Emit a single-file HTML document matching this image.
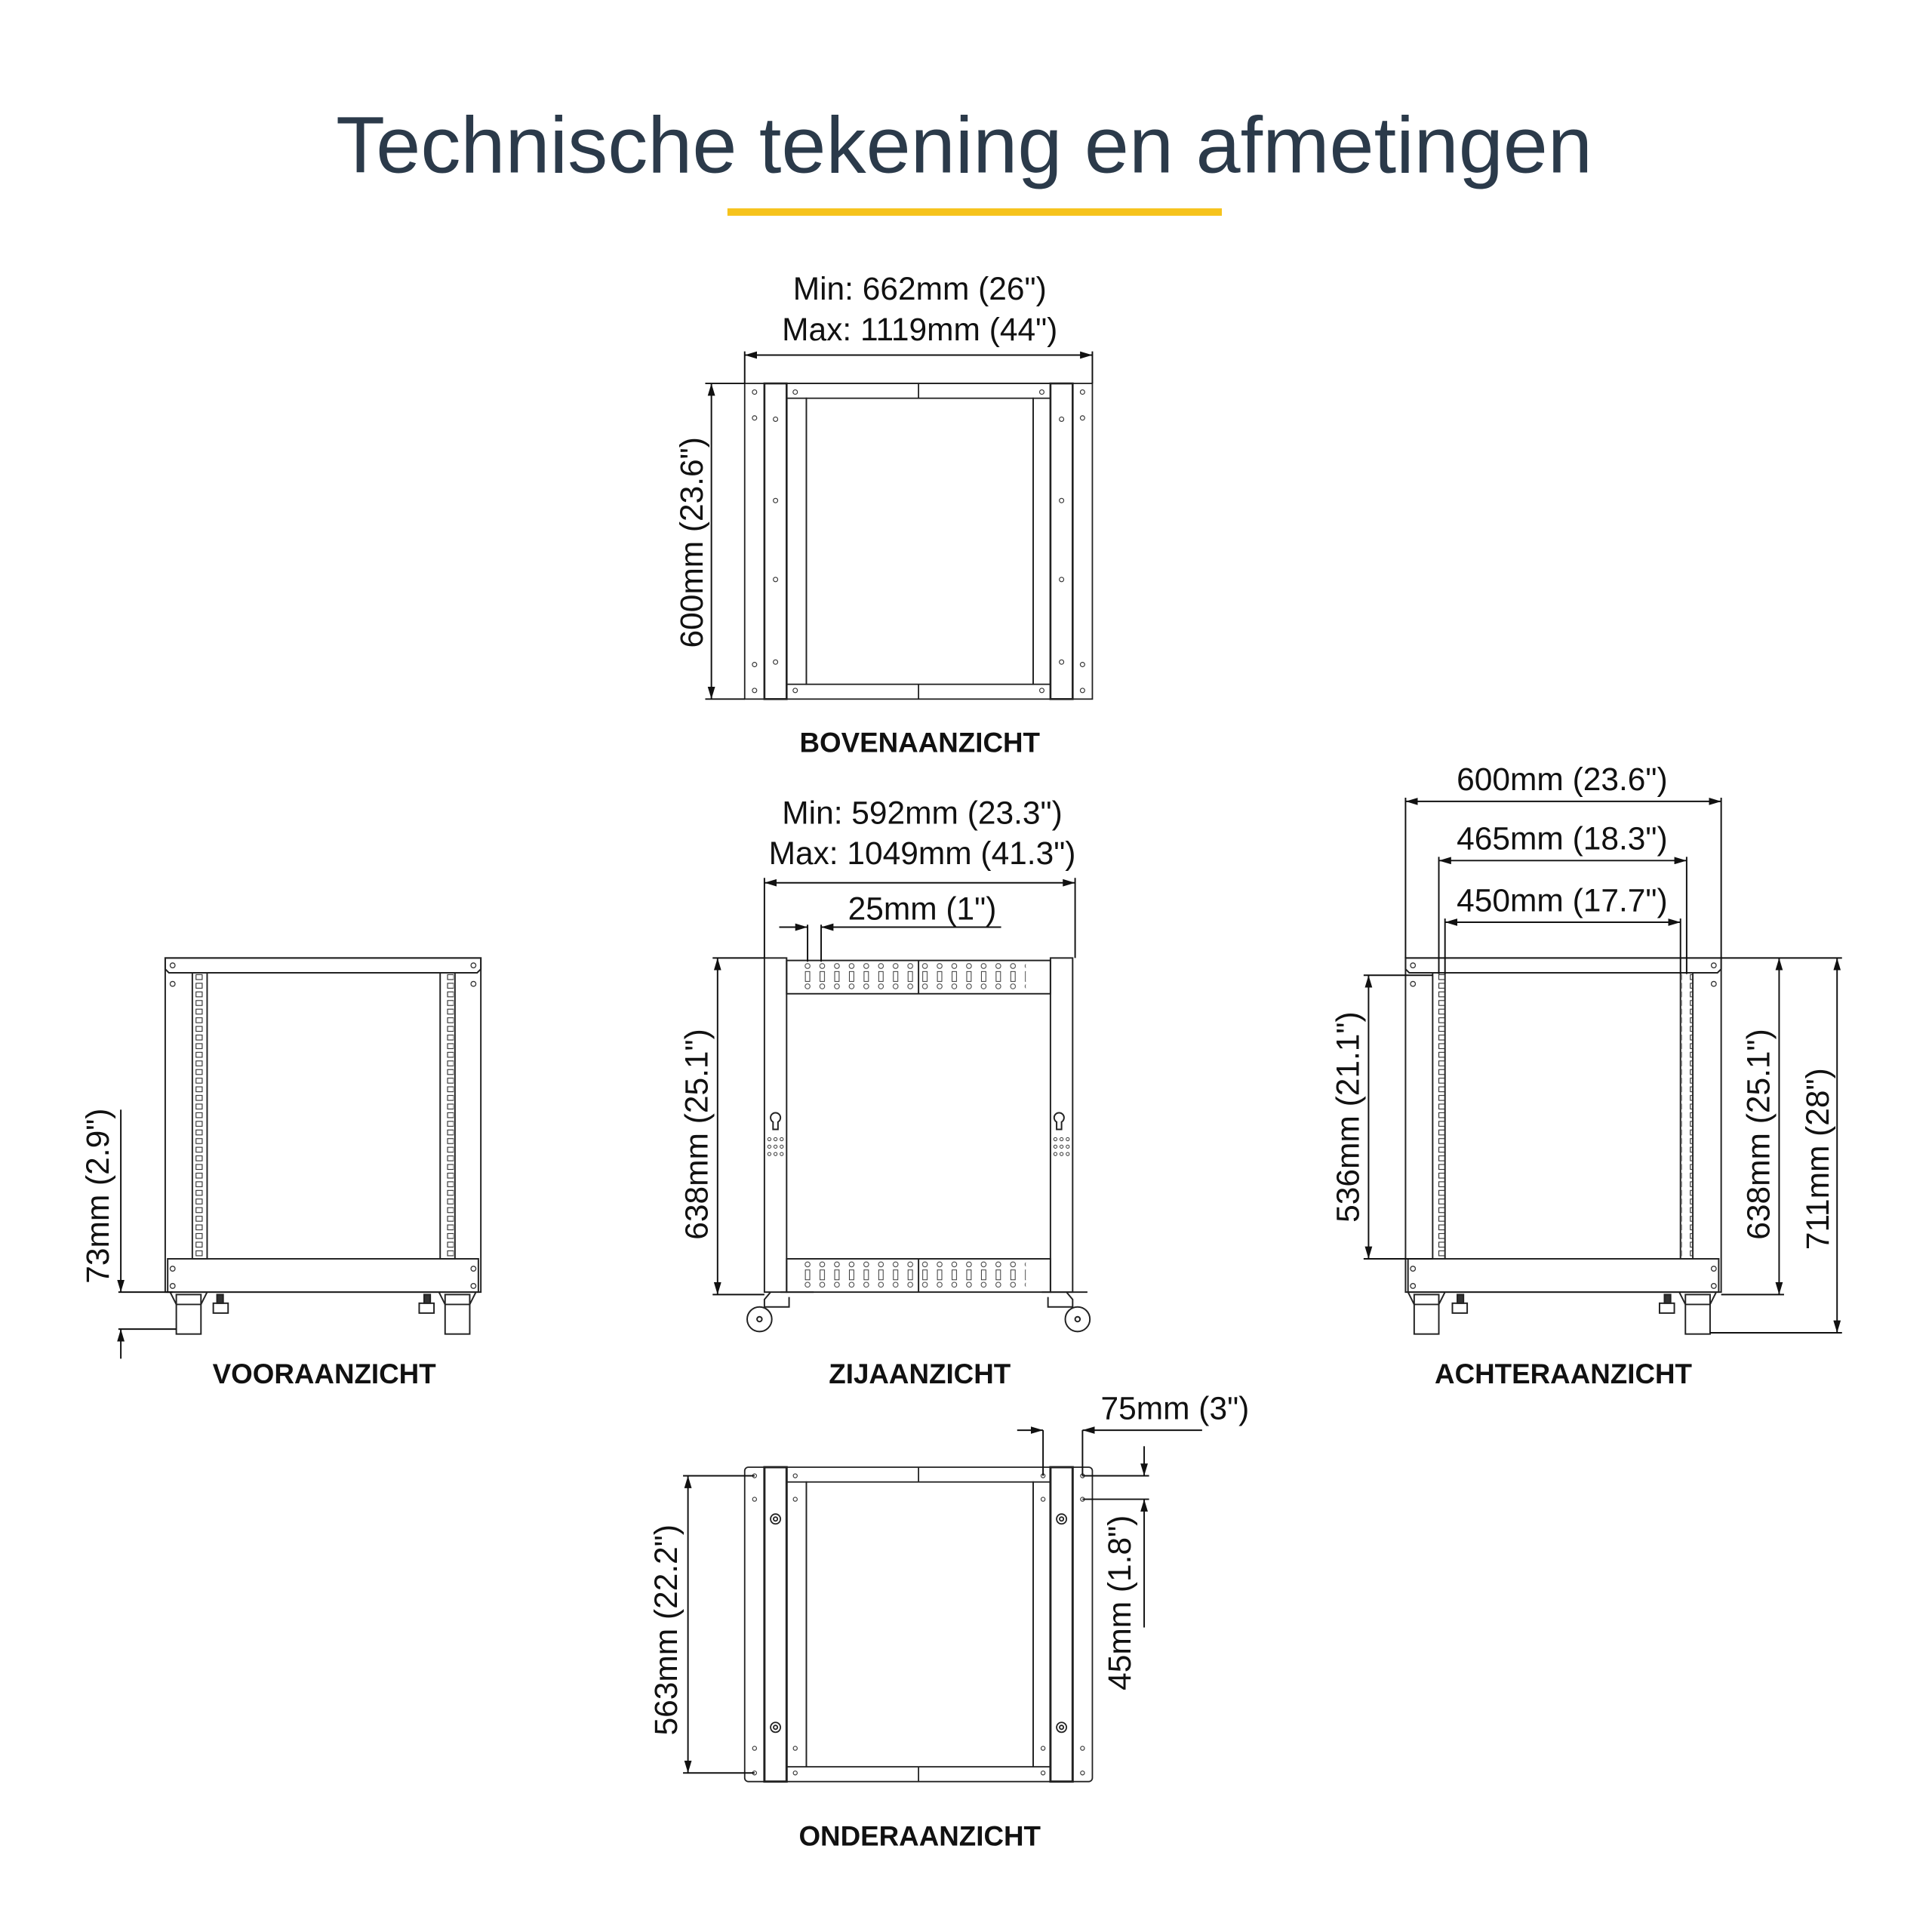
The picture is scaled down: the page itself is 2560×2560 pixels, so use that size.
<!DOCTYPE html>
<html><head><meta charset="utf-8"><style>
html,body{margin:0;padding:0;background:#fff;}
svg{display:block;}
text{font-family:"Liberation Sans",sans-serif;}
.d{font-size:26px;fill:#111;text-anchor:middle;}
.l{font-size:22.5px;font-weight:bold;fill:#111;text-anchor:middle;}
</style></head><body>
<svg width="2560" height="2560" viewBox="0 0 1567 1567" xmlns="http://www.w3.org/2000/svg">
<defs>
<marker id="a" viewBox="0 0 10 6" refX="10" refY="3" markerWidth="10" markerHeight="6" markerUnits="userSpaceOnUse" orient="auto-start-reverse"><path d="M0,0L10,3L0,6z" fill="#111"/></marker>
<pattern id="sq" x="0" y="789" width="12" height="7" patternUnits="userSpaceOnUse"><rect x="3" y="1.5" width="5" height="4" fill="none" stroke="#333" stroke-width="0.7"/></pattern>
<pattern id="ph" x="652" y="779" width="11.9" height="27" patternUnits="userSpaceOnUse"><circle cx="3" cy="4.5" r="2" fill="none" stroke="#333" stroke-width="0.6"/><rect x="1.2" y="9" width="3.6" height="8" fill="none" stroke="#333" stroke-width="0.6"/><circle cx="3" cy="21" r="2" fill="none" stroke="#333" stroke-width="0.6"/></pattern>
<pattern id="ph2" x="652" y="1021" width="11.9" height="27" patternUnits="userSpaceOnUse"><circle cx="3" cy="4.5" r="2" fill="none" stroke="#333" stroke-width="0.6"/><rect x="1.2" y="9" width="3.6" height="8" fill="none" stroke="#333" stroke-width="0.6"/><circle cx="3" cy="21" r="2" fill="none" stroke="#333" stroke-width="0.6"/></pattern>
</defs>
<text x="782" y="140" style="font-size:65px;fill:#2b3a4a;text-anchor:middle;">Technische tekening en afmetingen</text>
<rect x="590" y="169" width="401" height="6" fill="#f6c31c"/>

<g fill="none" stroke="#222" stroke-width="1.1">
<rect x="604" y="311" width="282" height="256"/>
<rect x="620" y="311" width="18" height="256" stroke-width="1.6"/>
<rect x="852" y="311" width="18" height="256" stroke-width="1.6"/>
<rect x="638" y="323" width="16" height="232"/>
<rect x="838" y="323" width="14" height="232"/>
<rect x="654" y="323" width="184" height="232"/>
<line x1="745" y1="311" x2="745" y2="323"/><line x1="745" y1="555" x2="745" y2="567"/>
<line x1="638" y1="311" x2="852" y2="311"/>
</g>
<g fill="none" stroke="#333" stroke-width="0.7">
<circle cx="612" cy="318" r="1.8"/><circle cx="612" cy="339" r="1.8"/><circle cx="612" cy="539" r="1.8"/><circle cx="612" cy="560" r="1.8"/>
<circle cx="878" cy="318" r="1.8"/><circle cx="878" cy="339" r="1.8"/><circle cx="878" cy="539" r="1.8"/><circle cx="878" cy="560" r="1.8"/>
<circle cx="629" cy="340" r="1.8"/><circle cx="629" cy="406" r="1.8"/><circle cx="629" cy="470" r="1.8"/><circle cx="629" cy="537" r="1.8"/>
<circle cx="861" cy="340" r="1.8"/><circle cx="861" cy="406" r="1.8"/><circle cx="861" cy="470" r="1.8"/><circle cx="861" cy="537" r="1.8"/>
<circle cx="645" cy="318" r="1.8"/><circle cx="845" cy="318" r="1.8"/><circle cx="645" cy="560" r="1.8"/><circle cx="845" cy="560" r="1.8"/>
</g>
<g stroke="#111" stroke-width="1.2" fill="none">
<line x1="604" y1="285" x2="604" y2="311"/><line x1="886" y1="285" x2="886" y2="311"/>
<line x1="604" y1="288" x2="886" y2="288" marker-start="url(#a)" marker-end="url(#a)"/>
<line x1="572" y1="311" x2="604" y2="311"/><line x1="572" y1="567" x2="604" y2="567"/>
<line x1="577" y1="311" x2="577" y2="567" marker-start="url(#a)" marker-end="url(#a)"/>
</g>
<text class="d" x="746" y="243">Min: 662mm (26")</text>
<text class="d" x="746" y="276">Max: 1119mm (44")</text>
<text class="d" transform="translate(570,440) rotate(-90)">600mm (23.6")</text>
<text class="l" x="746" y="610">BOVENAANZICHT</text>

<g fill="none" stroke="#222" stroke-width="1.2">
<rect x="134" y="777" width="256" height="271"/>
<path d="M134,777 H390 V786 L387,789 H137 L134,786Z"/>
<rect x="156" y="789" width="12" height="232"/>
<rect x="357" y="789" width="12" height="232"/>
<rect x="136" y="1021" width="252" height="27"/>
<rect x="143" y="1050" width="20" height="32"/><rect x="361" y="1050" width="20" height="32"/>
<path d="M138,1048 L143,1058 H163 L168,1048"/><path d="M356,1048 L361,1058 H381 L386,1048"/>
<rect x="173" y="1057" width="12" height="8"/><rect x="340" y="1057" width="12" height="8"/>
<rect x="176" y="1050" width="5" height="7" fill="#333"/><rect x="344" y="1050" width="5" height="7" fill="#333"/>
</g>
<rect x="157" y="789" width="10" height="232" fill="url(#sq)"/>
<rect x="358" y="789" width="10" height="232" fill="url(#sq)"/>
<g fill="none" stroke="#333" stroke-width="0.8">
<circle cx="140" cy="783" r="2"/><circle cx="384" cy="783" r="2"/><circle cx="140" cy="798" r="2"/><circle cx="384" cy="798" r="2"/>
<circle cx="140" cy="1029" r="2"/><circle cx="384" cy="1029" r="2"/><circle cx="140" cy="1043" r="2"/><circle cx="384" cy="1043" r="2"/>
</g>
<g stroke="#111" stroke-width="1.2" fill="none">
<line x1="96" y1="1048" x2="140" y2="1048"/><line x1="96" y1="1078" x2="143" y2="1078"/>
<line x1="98" y1="900" x2="98" y2="1048" marker-end="url(#a)"/>
<line x1="98" y1="1102" x2="98" y2="1078" marker-end="url(#a)"/>
</g>
<text class="d" transform="translate(88,970) rotate(-90)">73mm (2.9")</text>
<text class="l" x="263" y="1122">VOORAANZICHT</text>

<g fill="none" stroke="#222" stroke-width="1.2">
<rect x="620" y="777" width="18" height="271"/>
<rect x="852" y="777" width="18" height="271"/>
<rect x="638" y="779" width="214" height="27"/>
<rect x="638" y="1021" width="214" height="27"/>
<line x1="745" y1="779" x2="745" y2="806"/><line x1="745" y1="1021" x2="745" y2="1048"/>
<line x1="633" y1="1048" x2="660" y2="1048"/><line x1="845" y1="1048" x2="882" y2="1048"/>
<path d="M625,1048 L620,1054 V1060 H640 V1052"/><circle cx="616" cy="1070" r="10"/><circle cx="616" cy="1070" r="2"/>
<path d="M865,1048 L870,1054 V1060 H850 V1052"/><circle cx="874" cy="1070" r="10"/><circle cx="874" cy="1070" r="2"/>
<path d="M627,910 a4,4 0 1 1 4,0 v6 h-4z"/><path d="M857,910 a4,4 0 1 1 4,0 v6 h-4z"/>
</g>
<rect x="652" y="779" width="180" height="27" fill="url(#ph)"/>
<rect x="652" y="1021" width="180" height="27" fill="url(#ph2)"/>
<g fill="none" stroke="#333" stroke-width="0.6">
<circle cx="624" cy="924" r="1.3"/><circle cx="629" cy="924" r="1.3"/><circle cx="634" cy="924" r="1.3"/><circle cx="624" cy="930" r="1.3"/><circle cx="629" cy="930" r="1.3"/><circle cx="634" cy="930" r="1.3"/><circle cx="624" cy="936" r="1.3"/><circle cx="629" cy="936" r="1.3"/><circle cx="634" cy="936" r="1.3"/>
<circle cx="856" cy="924" r="1.3"/><circle cx="861" cy="924" r="1.3"/><circle cx="866" cy="924" r="1.3"/><circle cx="856" cy="930" r="1.3"/><circle cx="861" cy="930" r="1.3"/><circle cx="866" cy="930" r="1.3"/><circle cx="856" cy="936" r="1.3"/><circle cx="861" cy="936" r="1.3"/><circle cx="866" cy="936" r="1.3"/>
</g>
<g stroke="#111" stroke-width="1.2" fill="none">
<line x1="620" y1="712" x2="620" y2="777"/><line x1="872" y1="712" x2="872" y2="777"/>
<line x1="620" y1="716" x2="872" y2="716" marker-start="url(#a)" marker-end="url(#a)"/>
<line x1="655" y1="750" x2="655" y2="780"/><line x1="666" y1="750" x2="666" y2="780"/>
<line x1="632" y1="752" x2="655" y2="752" marker-end="url(#a)"/>
<line x1="812" y1="752" x2="666" y2="752" marker-end="url(#a)"/>
<line x1="578" y1="777" x2="620" y2="777"/><line x1="578" y1="1050" x2="620" y2="1050"/>
<line x1="582" y1="777" x2="582" y2="1050" marker-start="url(#a)" marker-end="url(#a)"/>
</g>
<text class="d" x="748" y="668">Min: 592mm (23.3")</text>
<text class="d" x="748" y="701">Max: 1049mm (41.3")</text>
<text class="d" x="748" y="746">25mm (1")</text>
<text class="d" transform="translate(574,920) rotate(-90)">638mm (25.1")</text>
<text class="l" x="746" y="1122">ZIJAANZICHT</text>

<g fill="none" stroke="#222" stroke-width="1.2">
<rect x="1140" y="777" width="256" height="271"/>
<path d="M1140,777 H1396 V786 L1393,789 H1143 L1140,786Z"/>
<rect x="1162" y="789" width="10" height="232"/>
<rect x="1363" y="789" width="10" height="232"/>
<rect x="1142" y="1021" width="252" height="27"/>
<rect x="1147" y="1050" width="20" height="32"/><rect x="1367" y="1050" width="20" height="32"/>
<path d="M1142,1048 L1147,1058 H1167 L1172,1048"/><path d="M1362,1048 L1367,1058 H1387 L1392,1048"/>
<rect x="1178" y="1057" width="12" height="8"/><rect x="1346" y="1057" width="12" height="8"/>
<rect x="1182" y="1050" width="5" height="7" fill="#333"/><rect x="1350" y="1050" width="5" height="7" fill="#333"/>
</g>
<rect x="1163" y="789" width="9" height="232" fill="url(#sq)"/>
<rect x="1364" y="789" width="9" height="232" fill="url(#sq)"/>
<g fill="none" stroke="#333" stroke-width="0.8">
<circle cx="1146" cy="783" r="2"/><circle cx="1390" cy="783" r="2"/><circle cx="1146" cy="798" r="2"/><circle cx="1390" cy="798" r="2"/>
<circle cx="1146" cy="1029" r="2"/><circle cx="1390" cy="1029" r="2"/><circle cx="1146" cy="1043" r="2"/><circle cx="1390" cy="1043" r="2"/>
</g>
<g stroke="#111" stroke-width="1.2" fill="none">
<line x1="1140" y1="647" x2="1140" y2="777"/><line x1="1396" y1="647" x2="1396" y2="777"/>
<line x1="1140" y1="650" x2="1396" y2="650" marker-start="url(#a)" marker-end="url(#a)"/>
<line x1="1167" y1="695" x2="1167" y2="790"/><line x1="1368" y1="695" x2="1368" y2="790"/>
<line x1="1167" y1="698" x2="1368" y2="698" marker-start="url(#a)" marker-end="url(#a)"/>
<line x1="1172" y1="745" x2="1172" y2="790"/><line x1="1363" y1="745" x2="1363" y2="790"/>
<line x1="1172" y1="748" x2="1363" y2="748" marker-start="url(#a)" marker-end="url(#a)"/>
<line x1="1106" y1="791" x2="1162" y2="791"/><line x1="1106" y1="1021" x2="1162" y2="1021"/>
<line x1="1110" y1="791" x2="1110" y2="1021" marker-start="url(#a)" marker-end="url(#a)"/>
<line x1="1396" y1="777" x2="1494" y2="777"/><line x1="1396" y1="1050" x2="1447" y2="1050"/><line x1="1387" y1="1081" x2="1494" y2="1081"/>
<line x1="1443" y1="777" x2="1443" y2="1050" marker-start="url(#a)" marker-end="url(#a)"/>
<line x1="1490" y1="777" x2="1490" y2="1081" marker-start="url(#a)" marker-end="url(#a)"/>
</g>
<text class="d" x="1267" y="641">600mm (23.6")</text>
<text class="d" x="1267" y="689">465mm (18.3")</text>
<text class="d" x="1267" y="739">450mm (17.7")</text>
<text class="d" transform="translate(1102,906) rotate(-90)">536mm (21.1")</text>
<text class="d" transform="translate(1435,920) rotate(-90)">638mm (25.1")</text>
<text class="d" transform="translate(1483,940) rotate(-90)">711mm (28")</text>
<text class="l" x="1268" y="1122">ACHTERAANZICHT</text>

<g fill="none" stroke="#222" stroke-width="1.1">
<rect x="604" y="1190" width="282" height="255" rx="3"/>
<rect x="620" y="1190" width="18" height="255" stroke-width="1.8"/>
<rect x="852" y="1190" width="18" height="255" stroke-width="1.8"/>
<rect x="638" y="1202" width="16" height="231"/>
<rect x="838" y="1202" width="14" height="231"/>
<rect x="654" y="1202" width="184" height="231"/>
<line x1="745" y1="1190" x2="745" y2="1202"/><line x1="745" y1="1433" x2="745" y2="1445"/>
<circle cx="629" cy="1232" r="4"/><circle cx="629" cy="1232" r="1.6"/><circle cx="629" cy="1401" r="4"/><circle cx="629" cy="1401" r="1.6"/>
<circle cx="861" cy="1232" r="4"/><circle cx="861" cy="1232" r="1.6"/><circle cx="861" cy="1401" r="4"/><circle cx="861" cy="1401" r="1.6"/>
</g>
<g fill="none" stroke="#333" stroke-width="0.7">
<circle cx="612" cy="1197" r="1.6"/><circle cx="612" cy="1216" r="1.6"/><circle cx="612" cy="1418" r="1.6"/><circle cx="612" cy="1438" r="1.6"/>
<circle cx="878" cy="1197" r="1.6"/><circle cx="878" cy="1216" r="1.6"/><circle cx="878" cy="1418" r="1.6"/><circle cx="878" cy="1438" r="1.6"/>
<circle cx="645" cy="1197" r="1.6"/><circle cx="645" cy="1216" r="1.6"/><circle cx="645" cy="1418" r="1.6"/><circle cx="645" cy="1438" r="1.6"/>
<circle cx="846" cy="1197" r="1.6"/><circle cx="846" cy="1216" r="1.6"/><circle cx="846" cy="1418" r="1.6"/><circle cx="846" cy="1438" r="1.6"/>
</g>
<g stroke="#111" stroke-width="1.2" fill="none">
<line x1="846" y1="1160" x2="846" y2="1197"/><line x1="878" y1="1160" x2="878" y2="1197"/>
<line x1="825" y1="1160" x2="846" y2="1160" marker-end="url(#a)"/>
<line x1="975" y1="1160" x2="878" y2="1160" marker-end="url(#a)"/>
<line x1="878" y1="1197" x2="932" y2="1197"/><line x1="878" y1="1216" x2="932" y2="1216"/>
<line x1="928" y1="1173" x2="928" y2="1197" marker-end="url(#a)"/>
<line x1="928" y1="1320" x2="928" y2="1216" marker-end="url(#a)"/>
<line x1="554" y1="1197" x2="612" y2="1197"/><line x1="554" y1="1438" x2="612" y2="1438"/>
<line x1="558" y1="1197" x2="558" y2="1438" marker-start="url(#a)" marker-end="url(#a)"/>
</g>
<text class="d" x="953" y="1151">75mm (3")</text>
<text class="d" transform="translate(917,1300) rotate(-90)">45mm (1.8")</text>
<text class="d" transform="translate(549,1322) rotate(-90)">563mm (22.2")</text>
<text class="l" x="746" y="1497">ONDERAANZICHT</text>
</svg>
</body></html>
